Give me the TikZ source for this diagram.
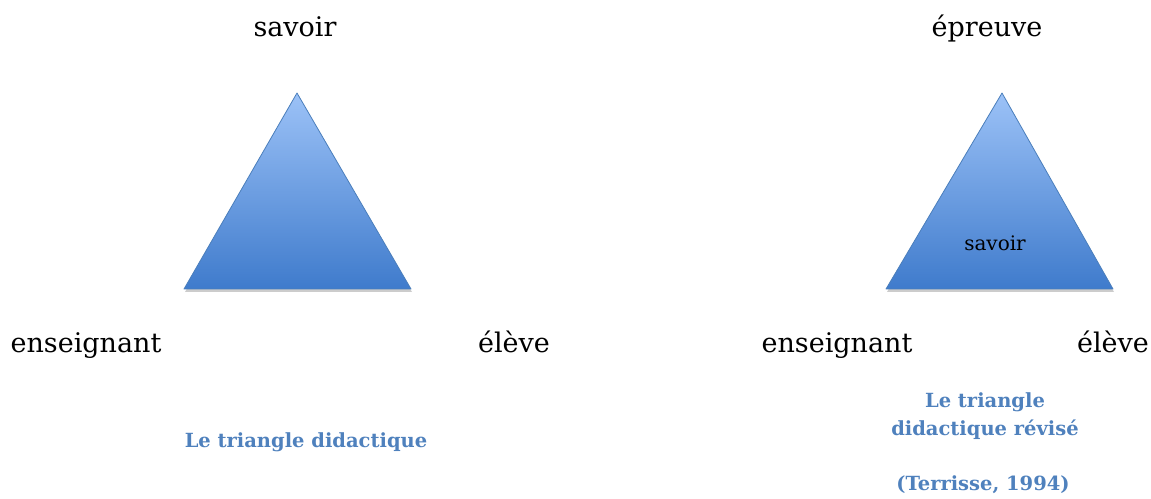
\documentclass[tikz,border=0pt]{standalone}
\usepackage{fontspec}
\setmainfont{DejaVu Serif}
\usepackage{xcolor}
\usetikzlibrary{
    positioning,
    calc
}
\definecolor{triTop}{HTML}{9CC2F7}
\definecolor{triBot}{HTML}{3F7BCC}
\definecolor{triEdge}{HTML}{4A7EBB}
\definecolor{capBlue}{HTML}{4F81BD}

\begin{document}
\begin{tikzpicture}[x=1pt, y=1pt,
        corner/.style={font=\fontsize{27}{30}\selectfont, anchor=base, inner sep=0pt},
        inside/.style={font=\fontsize{20}{24}\selectfont, anchor=base, inner sep=0pt},
        caption/.style={font=\fontsize{19.5}{23}\selectfont\bfseries, text=capBlue, anchor=base, inner sep=0pt},
        tri/.style={top color=triTop, bottom color=triBot, draw=triEdge, line width=0.8pt, line join=round},
        triShadow/.style={fill=black, opacity=0.2}
    ]
        \useasboundingbox (0,0) rectangle (1151,498);

        % Left triangle
        \coordinate (apexL) at (297,405);
        \coordinate (baseLL) at (184,209);
        \coordinate (baseLR) at (411,209);
        \fill[triShadow] ($(apexL)+(1,-3)$) -- ($(baseLL)+(1,-3)$) -- ($(baseLR)+(1,-3)$) -- cycle;
        \draw[tri] (apexL) -- (baseLL) -- (baseLR) -- cycle;

        \node[corner] (savoirL) at (295,461) {savoir};
        \node[corner] (enseignantL) at (86,145) {enseignant};
        \node[corner] (eleveL) at (514,145) {élève};
        \node[caption] (capL) at (306,50) {Le triangle didactique};

        % Right triangle
        \coordinate (apexR) at (1002,405);
        \coordinate (baseRL) at (886,209);
        \coordinate (baseRR) at (1113,209);
        \fill[triShadow] ($(apexR)+(1,-3)$) -- ($(baseRL)+(1,-3)$) -- ($(baseRR)+(1,-3)$) -- cycle;
        \draw[tri] (apexR) -- (baseRL) -- (baseRR) -- cycle;

        \node[inside] (savoirR) at (995,247) {savoir};
        \node[corner] (epreuve) at (987,461) {épreuve};
        \node[corner] (enseignantR) at (837,145) {enseignant};
        \node[corner] (eleveR) at (1113,145) {élève};

        % Captions
        \node[caption] (capR1) at (985,90) {Le triangle};
        \node[caption] (capR2) at (985,63) {didactique révisé};
        \node[caption] (capR3) at (983,8) {(Terrisse, 1994)};
    \end{tikzpicture}
\end{document}
